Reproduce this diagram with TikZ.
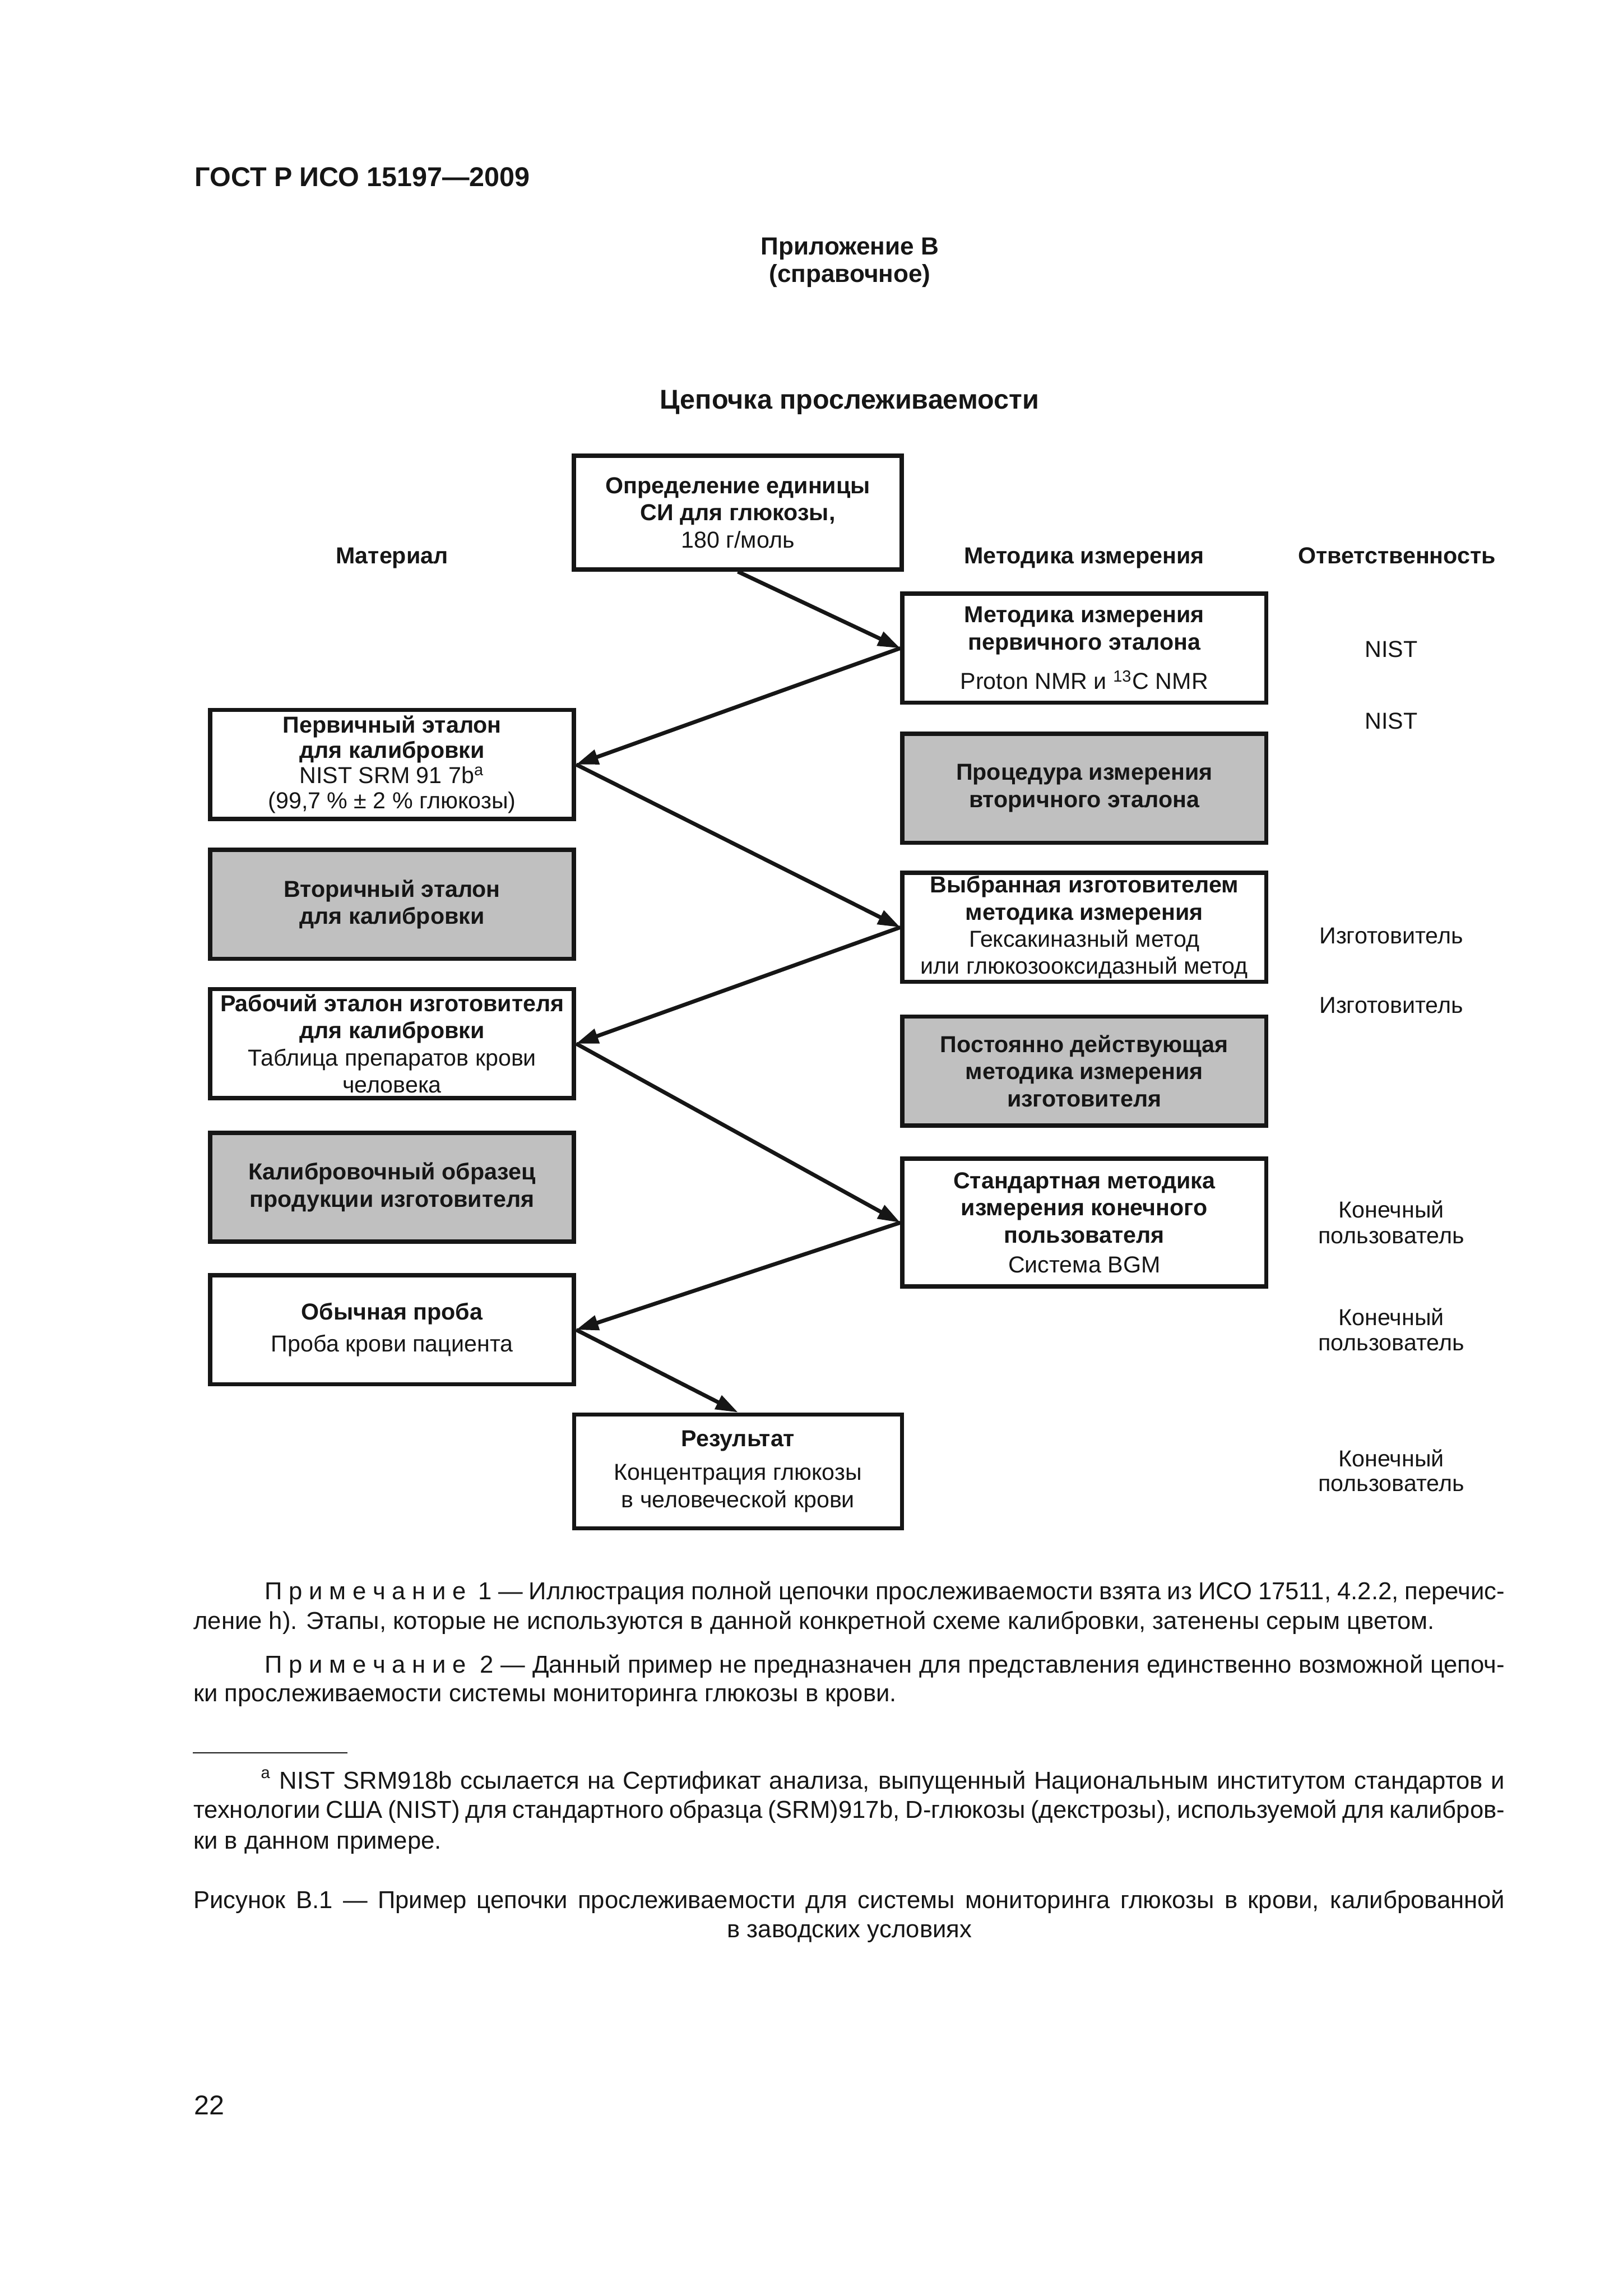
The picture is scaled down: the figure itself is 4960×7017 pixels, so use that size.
\documentclass[tikz,border=0pt]{standalone}
\usepackage{fontspec}
\setmainfont{Liberation Sans}
\usetikzlibrary{arrows.meta}
\definecolor{ink}{RGB}{22,22,22}
\definecolor{shade}{RGB}{192,192,192}
\newcommand\PrimSp{П\kern2.4bp р\kern2.4bp и\kern2.4bp м\kern2.4bp е\kern2.4bp ч\kern2.4bp а\kern2.4bp н\kern2.4bp и\kern2.4bp е}
\tikzset{
  stage/.style={draw=ink, line width=1.56bp, fill=white, align=center, inner sep=0pt,
    minimum width=133.44bp, minimum height=39.96bp, text=ink,
    font=\fontsize{8.5}{10}\selectfont},
  unused/.style={stage, fill=shade},
  endbox/.style={stage, minimum width=120.24bp, minimum height=41.76bp},
  flow/.style={draw=ink, line width=1.44bp, -{Triangle[length=8.2bp,width=5.4bp]}},
  lbl/.style={text=ink, inner sep=0pt, anchor=base, font=\fontsize{8.5}{10}\selectfont},
  head/.style={lbl, font=\fontsize{8.5}{10}\selectfont\bfseries},
  big/.style={text=ink, inner sep=0pt, anchor=base, font=\fontsize{10}{11}\selectfont\bfseries},
  mid/.style={big, font=\fontsize{9.1}{10}\selectfont\bfseries},
  para/.style={text=ink, inner sep=0pt, anchor=base west, font=\fontsize{9}{11}\selectfont}
}
\begin{document}
\begin{tikzpicture}[x=0.12bp,y=-0.12bp]
\fill[white] (0,0) rectangle (4960,7017);
\path[use as bounding box] (0,0) rectangle (4960,7017);

% page heading
\node[big, anchor=base west] (hdr) at (594,570) {ГОСТ Р ИСО 15197—2009};
\node[mid] (app1) at (2598,779) {Приложение В};
\node[mid] (app2) at (2598,863) {(справочное)};
\node[big] (title) at (2597,1250) {Цепочка прослеживаемости};

% column headings
\node[head] (hmat) at (1198,1722) {Материал};
\node[head] (hmet) at (3314,1722) {Методика измерения};
\node[head] (hotv) at (4270,1722) {Ответственность};

% boxes
\node[endbox] (b1) at (2255.5,1566.5) {\textbf{Определение единицы}\\ \textbf{СИ для глюкозы,}\\ 180 г/моль};
\node[stage] (m1) at (3314.5,1981) {\textbf{Методика измерения}\\ \textbf{первичного эталона}\\[4.5bp] Proton NMR и \textsuperscript{13}C NMR};
\node[stage, font=\fontsize{8.5}{9.3}\selectfont] (p1) at (1198.5,2336.5) {\textbf{Первичный эталон}\\ \textbf{для калибровки}\\ NIST SRM 91 7b\textsuperscript{a}\\ (99,7 \% ± 2 \% глюкозы)};
\node[unused] (m2) at (3314.5,2409) {\textbf{Процедура измерения}\\ \textbf{вторичного эталона}};
\node[unused] (p2) at (1198.5,2764) {\textbf{Вторичный эталон}\\ \textbf{для калибровки}};
\node[stage] (m3) at (3314.5,2834) {\textbf{Выбранная изготовителем}\\ \textbf{методика измерения}\\ Гексакиназный метод\\ или глюкозооксидазный метод};
\node[stage] (p3) at (1198.5,3189.5) {\textbf{Рабочий эталон изготовителя}\\ \textbf{для калибровки}\\ Таблица препаратов крови\\ человека};
\node[unused] (m4) at (3314.5,3273) {\textbf{Постоянно действующая}\\ \textbf{методика измерения}\\ \textbf{изготовителя}};
\node[unused] (p4) at (1198.5,3628.5) {\textbf{Калибровочный образец}\\ \textbf{продукции изготовителя}};
\node[stage, minimum height=46.8bp] (m5) at (3314.5,3736.5) {\textbf{Стандартная методика}\\ \textbf{измерения конечного}\\ \textbf{пользователя}\\[1bp] Система BGM};
\node[stage] (p5) at (1198.5,4064) {\textbf{Обычная проба}\\[1.8bp] Проба крови пациента};
\node[endbox] (res) at (2256,4497) {\textbf{Результат}\\[2.4bp] Концентрация глюкозы\\ в человеческой крови};

% responsibility column
\node[lbl] (r1) at (4253,2009) {NIST};
\node[lbl] (r2) at (4253,2228) {NIST};
\node[lbl] (r3) at (4253,2884) {Изготовитель};
\node[lbl] (r4) at (4253,3097) {Изготовитель};
\node[lbl] (r5a) at (4253,3722) {Конечный};
\node[lbl] (r5b) at (4253,3801) {пользователь};
\node[lbl] (r6a) at (4253,4050) {Конечный};
\node[lbl] (r6b) at (4253,4127) {пользователь};
\node[lbl] (r7a) at (4253,4483) {Конечный};
\node[lbl] (r7b) at (4253,4558) {пользователь};

% connectors
\draw[flow] (b1.south) -- (m1.west);
\draw[flow] (m1.west) -- (p1.east);
\draw[flow] (p1.east) -- (m3.west);
\draw[flow] (m3.west) -- (p3.east);
\draw[flow] (p3.east) -- (m5.west);
\draw[flow] (m5.west) -- (p5.east);
\draw[flow] (p5.east) -- (res.north);

% notes
\node[para] (n1a) at (808,4888) {\makebox[454.8bp][s]{\PrimSp\ \ 1 — Иллюстрация полной цепочки прослеживаемости взята из ИСО 17511, 4.2.2, перечис-}};
\node[para] (n1b) at (590,4980) {ление h). Этапы, которые не используются в данной конкретной схеме калибровки, затенены серым цветом.};
\node[para] (n2a) at (808,5113) {\makebox[454.8bp][s]{\PrimSp\ \ 2 — Данный пример не предназначен для представления единственно возможной цепоч-}};
\node[para] (n2b) at (590,5200) {ки прослеживаемости системы мониторинга глюкозы в крови.};

% footnote
\coordinate (fr1) at (590,5357);
\coordinate (fr2) at (1062,5357);
\draw[ink, line width=0.4bp] (fr1) -- (fr2);
\node[para] (f1) at (796,5467) {\makebox[456.2bp][s]{\textsuperscript{a} NIST SRM918b ссылается на Сертификат анализа, выпущенный Национальным институтом стандартов и}};
\node[para] (f2) at (590,5557) {\makebox[480.96bp][s]{технологии США (NIST) для стандартного образца (SRM)917b, D-глюкозы (декстрозы), используемой для калибров-}};
\node[para] (f3) at (590,5650) {ки в данном примере.};

% caption
\node[para] (c1) at (590,5833) {\makebox[480.96bp][s]{Рисунок В.1 — Пример цепочки прослеживаемости для системы мониторинга глюкозы в крови, калиброванной}};
\node[para, anchor=base] (c2) at (2597,5922) {в заводских условиях};

% page number
\node[para, font=\fontsize{10}{12}\selectfont] (pg) at (592,6462) {22};
\end{tikzpicture}
\end{document}
